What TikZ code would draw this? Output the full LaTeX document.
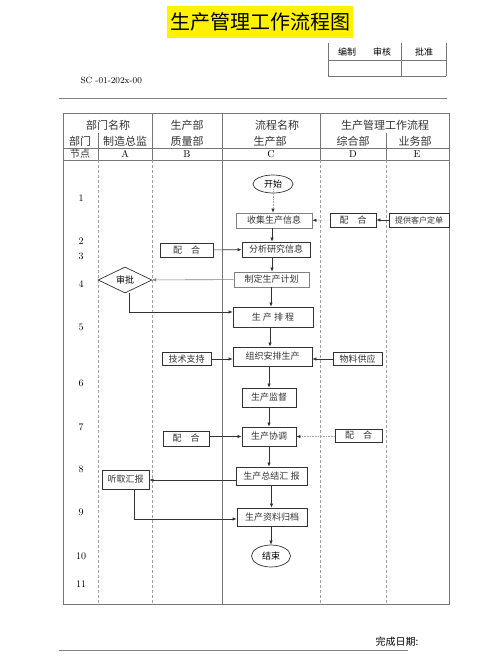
\documentclass[tikz,border=0pt]{standalone}
\usepackage{fontspec}
\newfontfamily\cjk{Noto Sans CJK SC}
\usetikzlibrary{shapes.geometric,arrows.meta}
\definecolor{frame}{HTML}{777777}
\definecolor{ln}{HTML}{333333}
\tikzset{
  box/.style={draw=ln, line width=0.8pt, fill=white, inner sep=0pt, font=\cjk\fontsize{9}{9}\selectfont, text=ln},
  oval/.style={ellipse, draw=ln, line width=0.7pt, inner sep=0pt, font=\cjk\fontsize{9}{9}\selectfont},
  decide/.style={diamond, draw=ln, line width=0.7pt, inner sep=0pt, aspect=2, font=\cjk\fontsize{9}{9}\selectfont},
  arr/.style={draw=ln, line width=0.6pt, -{Latex[length=4pt,width=3.5pt]}},
  farr/.style={draw=gray!70, line width=0.6pt, -{Latex[length=4pt,width=3.5pt]}, densely dotted, arrows={-{Latex[length=4pt,width=3.5pt,color=ln]}}},
  hdr/.style={font=\cjk\fontsize{11}{11}\selectfont, text=black!80},
  num/.style={font=\fontsize{10}{10}\selectfont},
  tline/.style={draw=frame, line width=0.7pt},
  dline/.style={draw=frame!70, line width=0.5pt, densely dashed},
}
\begin{document}
\begin{tikzpicture}[x=1pt,y=-1pt]
\useasboundingbox (0,0) rectangle (500,667);
\fill[white] (0,0) rectangle (500,667);
% title
\node[fill=yellow, minimum width=186pt, minimum height=32pt, inner sep=0pt, font=\cjk\fontsize{20}{20}\selectfont] (title) at (260,22) {生产管理工作流程图};
% sign table
\draw[tline] (328,43) -- (328,76) (401,43) -- (401,76) (446,43) -- (446,76);
\draw[tline] (328,60) -- (446,60) (328,76) -- (446,76);
\node[font=\cjk\fontsize{9}{9}\selectfont] (bz) at (347,52) {编制};
\node[font=\cjk\fontsize{9}{9}\selectfont] (sh) at (382,52) {审核};
\node[font=\cjk\fontsize{9}{9}\selectfont] (pz) at (424,52) {批准};
\node[font=\fontsize{9}{9}\selectfont, anchor=west] (code) at (77,80) {SC -01-202x-00};
\draw[draw=gray, line width=1pt] (59,98) -- (447,98);
% main table frame
\draw[tline] (63,113) rectangle (449,604);
\draw[tline] (63,148) -- (449,148) (63,160) -- (449,160);
\draw[tline] (152,113) -- (152,160) (222,113) -- (222,160) (320,113) -- (320,160);
\draw[tline] (98,133) -- (98,160) (386,133) -- (386,160);
\draw[dline] (98,160) -- (98,604) (152,160) -- (152,604) (320,160) -- (320,604) (386,160) -- (386,604);
\draw[tline, line width=0.5pt] (222,160) -- (222,604);
% header text
\node[hdr] (h1) at (108,125) {部门名称};
\node[hdr] (h2) at (187,125) {生产部};
\node[hdr] (h3) at (277,125) {流程名称};
\node[hdr] (h4) at (385,125) {生产管理工作流程};
\node[hdr] (h5) at (80,141) {部门};
\node[hdr] (h6) at (125,141) {制造总监};
\node[hdr] (h7) at (187,141) {质量部};
\node[hdr] (h8) at (270,141) {生产部};
\node[hdr] (h9) at (353,141) {综合部};
\node[hdr] (h10) at (415,141) {业务部};
\node[hdr, font=\cjk\fontsize{10}{10}\selectfont] (h11) at (80,154) {节点};
\node[num] (cA) at (125,154) {A};
\node[num] (cB) at (187,154) {B};
\node[num] (cC) at (271,154) {C};
\node[num] (cD) at (353,154) {D};
\node[num] (cE) at (417,154) {E};
% row numbers
\node[num] (r1) at (81,198) {1};
\node[num] (r2) at (81,241) {2};
\node[num] (r3) at (81,256) {3};
\node[num] (r4) at (81,284) {4};
\node[num] (r5) at (81,327) {5};
\node[num] (r6) at (81,383) {6};
\node[num] (r7) at (81,427) {7};
\node[num] (r8) at (81,469) {8};
\node[num] (r9) at (81,512) {9};
\node[num] (r10) at (81,556) {10};
\node[num] (r11) at (81,584) {11};
% flow nodes
\node[oval, minimum width=40pt, minimum height=18pt] (start) at (273,184) {开始};
\node[box, draw=gray, minimum width=76pt, minimum height=15pt] (collect) at (274,220.5) {收集生产信息};
\node[box, minimum width=46pt, minimum height=14pt] (peiD1) at (353,220) {配\quad 合};
\node[box, minimum width=60pt, minimum height=14pt, font=\cjk\fontsize{8}{8}\selectfont] (order) at (419,220) {提供客户定单};
\node[box, minimum width=68pt, minimum height=15pt] (analyze) at (276,249.5) {分析研究信息};
\node[box, minimum width=53pt, minimum height=14pt] (peiB1) at (186.5,250) {配\quad 合};
\node[box, draw=gray, minimum width=75pt, minimum height=15pt] (plan) at (271.5,279.5) {制定生产计划};
\node[decide, minimum width=54pt, minimum height=26pt] (approve) at (125,280) {审批};
\node[box, minimum width=80pt, minimum height=20pt] (schedule) at (273,317) {生\ 产\ 排\ 程};
\node[box, minimum width=79pt, minimum height=19pt] (organize) at (272.5,356.5) {组织安排生产};
\node[box, minimum width=49pt, minimum height=13pt] (tech) at (186.5,359) {技术支持};
\node[box, minimum width=49pt, minimum height=13pt] (material) at (357.5,359) {物料供应};
\node[box, minimum width=54pt, minimum height=19pt] (supervise) at (269,397.5) {生产监督};
\node[box, minimum width=54pt, minimum height=19pt] (coord) at (269,436.5) {生产协调};
\node[box, minimum width=46pt, minimum height=15pt] (peiB2) at (186,438.5) {配\quad 合};
\node[box, minimum width=47pt, minimum height=13pt] (peiD2) at (358.5,435.5) {配\quad 合};
\node[box, minimum width=71pt, minimum height=18pt] (summary) at (271.5,476) {生产总结汇\ 报};
\node[box, minimum width=47pt, minimum height=19pt] (listen) at (125.5,479.5) {听取汇报};
\node[box, minimum width=70pt, minimum height=18pt] (archive) at (272,517) {生产资料归档};
\node[oval, minimum width=39pt, minimum height=22pt] (stop) at (271,556) {结束};
% connectors
\draw[farr] ([yshift=4pt]start.south) -- (start.south |- collect.north);
\draw[farr] (peiD1) -- (collect);
\draw[arr] (order) -- (peiD1);
\draw[arr] (collect.south -| 272,0) -- (analyze.north -| 272,0);
\draw[arr] (peiB1) -- (analyze);
\draw[arr] (analyze.south -| 272,0) -- (plan.north -| 272,0);
\draw[arr, draw=gray] (plan) -- (approve);
\draw[arr] (plan.south -| 271,0) -- (schedule.north -| 271,0);
\coordinate (c1) at (129,312);
\draw[arr] (approve.south -| c1) -- (c1) -- (schedule.west |- c1);
\draw[arr] (schedule.south -| 270,0) -- (organize.north -| 270,0);
\draw[arr] (tech) -- (organize.west |- tech);
\draw[arr] (material) -- (organize.east |- material);
\draw[arr] (organize.south -| 269,0) -- (supervise.north -| 269,0);
\draw[arr] (supervise) -- (coord);
\draw[arr] (peiB2.east |- coord) -- (coord.west);
\draw[farr] (peiD2.west |- coord) -- (coord.east);
\draw[arr] (coord) -- (summary.north -| coord);
\coordinate (c2) at (0,480);
\draw[arr] (summary.west |- c2) -- (listen.east |- c2);
\draw[arr] (summary) -- (archive.north -| summary);
\coordinate (c3) at (134,519);
\draw[arr] (listen.south -| c3) -- (c3) -- (archive.west |- c3);
\draw[arr] (archive.south -| stop) -- (stop);
% footer
\draw[draw=gray, line width=1pt] (59,650) -- (408,650);
\node[font=\cjk\fontsize{10}{10}\selectfont, anchor=west] (done) at (372,642) {完成日期:};
\end{tikzpicture}
\end{document}
